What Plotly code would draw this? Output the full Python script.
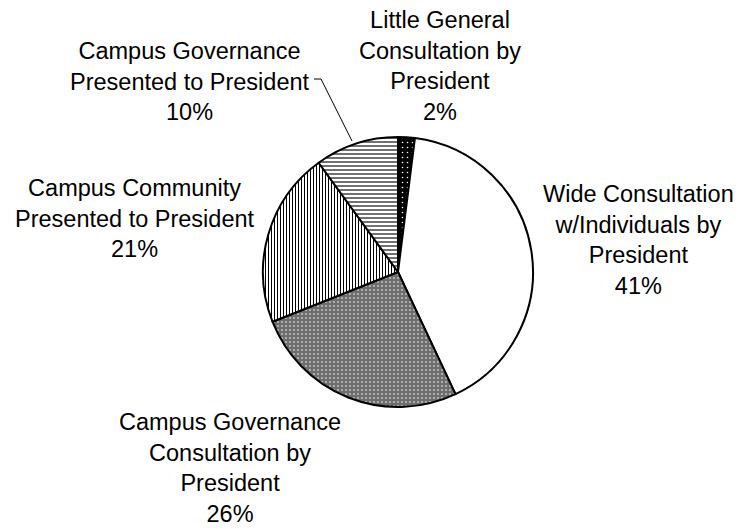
import plotly.graph_objects as go

# Share of decisions by consultation type (percent)
categories = [
    "Little General<br>Consultation by<br>President",
    "Wide Consultation<br>w/Individuals by<br>President",
    "Campus Governance<br>Consultation by<br>President",
    "Campus Community<br>Presented to President",
    "Campus Governance<br>Presented to President",
]
values = [2, 41, 26, 21, 10]

# Fill styles per slice
fill_colors = ["#000000", "#ffffff", "#6e6e6e", "#ffffff", "#ffffff"]
pattern_shapes = [".", "", ".", "|", "-"]
pattern_fg = ["#ffffff", "#000000", "#bdbdbd", "#000000", "#000000"]
pattern_size = [5, 4, 4, 3, 4]
pattern_solidity = [0.08, 0.3, 0.22, 0.34, 0.28]

W, H = 738, 529


def px(x):
    return x / W


def py(y):
    return 1 - y / H


cx, cy, r = 398, 272, 135

fig = go.Figure(
    go.Pie(
        labels=categories,
        values=values,
        sort=False,
        direction="clockwise",
        rotation=0,
        textinfo="none",
        hoverinfo="label+percent",
        showlegend=False,
        marker=dict(
            colors=fill_colors,
            line=dict(color="#000000", width=2),
            pattern=dict(
                shape=pattern_shapes,
                fgcolor=pattern_fg,
                bgcolor=fill_colors,
                size=pattern_size,
                solidity=pattern_solidity,
                fillmode="replace",
            ),
        ),
        domain=dict(x=[px(cx - r), px(cx + r)], y=[py(cy + r), py(cy - r)]),
    )
)

# Outside label placement (pixel centres of each text block)
label_pos = [(440, 66), (638, 240), (230, 468), (135, 219), (190, 81)]

annotations = []
for name, val, (lx, ly) in zip(categories, values, label_pos):
    annotations.append(
        dict(
            x=px(lx),
            y=py(ly),
            xref="paper",
            yref="paper",
            text=f"{name}<br>{val}%",
            showarrow=False,
            xanchor="center",
            yanchor="middle",
            align="center",
            borderpad=0,
            borderwidth=0,
            font=dict(family="Liberation Sans, Arial, sans-serif", size=23.5, color="#000000"),
        )
    )

# Leader line from the small-slice label to its wedge
leader = dict(
    type="path",
    xref="paper",
    yref="paper",
    path=f"M {px(314)} {py(79)} L {px(321)} {py(79)} L {px(352)} {py(141)}",
    line=dict(color="#000000", width=1),
)

fig.update_layout(
    width=W,
    height=H,
    margin=dict(l=0, r=0, t=0, b=0),
    paper_bgcolor="#ffffff",
    plot_bgcolor="#ffffff",
    annotations=annotations,
    shapes=[leader],
)

fig.write_html("out.html")
